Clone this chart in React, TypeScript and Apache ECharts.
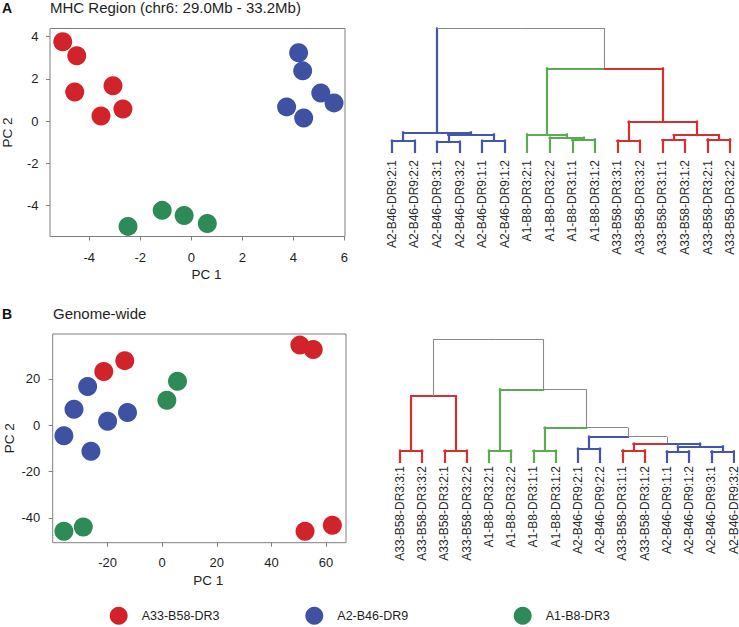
import React, { useEffect, useRef } from "react";
import * as echarts from "echarts";

// ---------- data ----------
const groupNames = ["A33-B58-DR3", "A2-B46-DR9", "A1-B8-DR3"];
const groupColors = ["#d2232a", "#3f51a3", "#2e8b57"];

// Panel A: PCA, MHC region
const mhcRed = [[-5.04, 3.76], [-4.49, 3.1], [-4.57, 1.38], [-3.07, 1.67], [-2.68, 0.57], [-3.54, 0.24]];
const mhcBlue = [[4.21, 3.24], [4.37, 2.38], [5.08, 1.33], [5.6, 0.86], [3.74, 0.67], [4.41, 0.14]];
const mhcGreen = [[-2.48, -5.0], [-1.14, -4.24], [-0.28, -4.48], [0.63, -4.86]];

// Panel B: PCA, genome-wide
const gwRed = [[-21.4, 23.2], [-13.7, 27.9], [50.4, 34.6], [55.3, 32.7], [52.3, -45.8], [62.3, -43.2]];
const gwBlue = [[-27.3, 16.7], [-32.3, 6.9], [-36, -4.5], [-26.1, -11.2], [-20, 1.7], [-12.7, 5.5]];
const gwGreen = [[5.6, 19], [1.7, 10.8], [-36, -45.8], [-28.9, -43.9]];

const mhcXTicks = [-4, -2, 0, 2, 4, 6];
const mhcYTicks = [-4, -2, 0, 2, 4];
const gwXTicks = [-20, 0, 20, 40, 60];
const gwYTicks = [-40, -20, 0, 20];

// Dendrogram leaves
const mhcLeaves = [
  "A2-B46-DR9:2:1", "A2-B46-DR9:2:2", "A2-B46-DR9:3:1", "A2-B46-DR9:3:2", "A2-B46-DR9:1:1", "A2-B46-DR9:1:2",
  "A1-B8-DR3:2:1", "A1-B8-DR3:2:2", "A1-B8-DR3:1:1", "A1-B8-DR3:1:2",
  "A33-B58-DR3:3:1", "A33-B58-DR3:3:2", "A33-B58-DR3:1:1", "A33-B58-DR3:1:2", "A33-B58-DR3:2:1", "A33-B58-DR3:2:2",
];
const gwLeaves = [
  "A33-B58-DR3:3:1", "A33-B58-DR3:3:2", "A33-B58-DR3:2:1", "A33-B58-DR3:2:2",
  "A1-B8-DR3:2:1", "A1-B8-DR3:2:2", "A1-B8-DR3:1:1", "A1-B8-DR3:1:2",
  "A2-B46-DR9:2:1", "A2-B46-DR9:2:2", "A33-B58-DR3:1:1", "A33-B58-DR3:1:2",
  "A2-B46-DR9:1:1", "A2-B46-DR9:1:2", "A2-B46-DR9:3:1", "A2-B46-DR9:3:2",
];

// merges: [left node, right node, height, left vertical, left bar, right vertical, right bar]
// leaves are nodes 0..15, merge k is node 16+k; colours: r, b, g, k (grey)
const mhcMerges: [number, number, number, string, string, string, string][] = [
  [0, 1, 1.13, "b", "b", "b", "b"],
  [2, 3, 1.03, "b", "b", "b", "b"],
  [4, 5, 1.13, "b", "b", "b", "b"],
  [17, 18, 1.77, "b", "b", "b", "b"],
  [16, 19, 1.97, "b", "b", "b", "b"],
  [8, 9, 1.27, "g", "g", "g", "g"],
  [7, 21, 1.43, "g", "g", "g", "g"],
  [6, 22, 1.77, "g", "g", "g", "g"],
  [10, 11, 1.13, "r", "r", "r", "r"],
  [12, 13, 1.2, "r", "r", "r", "r"],
  [14, 15, 1.27, "r", "r", "r", "r"],
  [25, 26, 1.7, "r", "r", "r", "r"],
  [24, 27, 3.03, "r", "r", "r", "r"],
  [23, 28, 8.37, "g", "g", "r", "r"],
  [20, 29, 12.37, "b", "k", "k", "k"],
];
const gwMerges: [number, number, number, string, string, string, string][] = [
  [0, 1, 1.13, "r", "r", "r", "r"],
  [2, 3, 1.13, "r", "r", "r", "r"],
  [16, 17, 6.6, "r", "r", "r", "r"],
  [4, 5, 1.13, "g", "g", "g", "g"],
  [6, 7, 1.13, "g", "g", "g", "g"],
  [8, 9, 1.35, "b", "b", "b", "b"],
  [10, 11, 1.17, "r", "r", "r", "r"],
  [12, 13, 1.07, "b", "b", "b", "b"],
  [14, 15, 1.07, "b", "b", "b", "b"],
  [23, 24, 1.57, "b", "b", "b", "b"],
  [22, 25, 1.85, "r", "r", "b", "b"],
  [21, 26, 2.53, "b", "b", "k", "k"],
  [20, 27, 3.43, "g", "g", "k", "k"],
  [19, 28, 7.27, "g", "g", "k", "k"],
  [18, 29, 12.27, "k", "k", "k", "k"],
];

const PAL: Record<string, string> = { r: "#d43030", b: "#4356ab", g: "#5aab52", k: "#8a8a8a" };

function dendroSegments(n: number, merges: [number, number, number, string, string, string, string][]) {
  const xs: number[] = [];
  const hs: number[] = [];
  for (let i = 0; i < n; i++) {
    xs.push(i);
    hs.push(0);
  }
  const segs: any[] = [];
  const push = (a: number[], b: number[], c: string) =>
    segs.push({
      coords: [a, b],
      lineStyle: { color: PAL[c], width: c === "k" ? 1.1 : 2.2, cap: c === "k" ? "butt" : "square", opacity: 1 },
    });
  merges.forEach(([l, r, h, lv, lh, rv, rh]) => {
    const x = (xs[l] + xs[r]) / 2;
    push([xs[l], hs[l]], [xs[l], h], lv);
    push([xs[l], h], [x, h], lh);
    push([xs[r], hs[r]], [xs[r], h], rv);
    push([xs[r], h], [x, h], rh);
    xs.push(x);
    hs.push(h);
  });
  return { segs, top: hs[hs.length - 1] };
}

const FONT = "'Liberation Sans', Arial, sans-serif";
const BOX = "#7f7f7f";
const TXT = "#1e1e1e";

function scatterAxis(min: number, max: number, ticks: number[], name: string, gridIndex: number, margin: number, isX: boolean) {
  return {
    type: "value",
    gridIndex,
    min,
    max,
    name,
    nameLocation: "middle",
    nameGap: isX ? 31 : 36,
    nameTextStyle: isX
      ? { fontSize: 13.5, color: TXT, padding: [0, 0, 0, 18] }
      : { fontSize: 13.5, color: TXT },
    splitLine: { show: false },
    axisLine: { show: false, onZero: false },
    axisTick: { show: true, length: 4, customValues: ticks, lineStyle: { color: BOX } },
    axisLabel: { customValues: ticks, fontSize: 13, color: TXT, margin },
  };
}

export default function App() {
  const ref = useRef<HTMLDivElement>(null);
  useEffect(() => {
    if (!ref.current) return;
    const chart = echarts.init(ref.current, undefined, { renderer: "svg" });
    const dA = dendroSegments(mhcLeaves.length, mhcMerges);
    const dB = dendroSegments(gwLeaves.length, gwMerges);

    const gridBase = { show: true, borderColor: BOX, borderWidth: 1, backgroundColor: "transparent", containLabel: false, outerBoundsMode: "none" };
    const dendroGrid = { show: false, containLabel: false, outerBoundsMode: "none" };

    const scatter = (name: string, color: string, data: number[][], idx: number) => ({
      type: "scatter",
      name,
      xAxisIndex: idx,
      yAxisIndex: idx,
      data,
      symbol: "circle",
      symbolSize: 19,
      itemStyle: { color, opacity: 1 },
      silent: true,
    });

    const catAxis = (labels: string[], gridIndex: number, margin: number) => ({
      type: "category",
      gridIndex,
      data: labels,
      boundaryGap: false,
      axisLine: { show: false, onZero: false },
      axisTick: { show: false },
      splitLine: { show: false },
      axisLabel: { rotate: 90, interval: 0, fontSize: 12, color: "#2a2a2a", margin, hideOverlap: false },
    });
    const hiddenVal = (gridIndex: number, min: number, max: number) => ({
      type: "value",
      gridIndex,
      min,
      max,
      show: false,
      splitLine: { show: false },
    });

    const legendAt = (i: number, left: number) => ({
      data: [groupNames[i]],
      left,
      top: 606.7,
      padding: 0,
      icon: "circle",
      itemWidth: 36,
      itemHeight: 18,
      selectedMode: false,
      textStyle: { fontSize: 12.5, color: TXT, fontFamily: FONT },
    });

    const linesSeries = (xi: number, yi: number, data: any[]) => ({
      type: "lines",
      coordinateSystem: "cartesian2d",
      xAxisIndex: xi,
      yAxisIndex: yi,
      polyline: false,
      silent: true,
      symbol: ["none", "none"],
      lineStyle: { width: 2.2, opacity: 1 },
      data,
    });

    const option: any = {
      animation: false,
      backgroundColor: "#ffffff",
      textStyle: { fontFamily: FONT },
      grid: [
        { ...gridBase, left: 50, top: 28.5, width: 295, height: 208 },
        { ...gridBase, left: 52.7, top: 334, width: 293.3, height: 208.7 },
        { ...dendroGrid, left: 391.9, top: 28.3, width: 338.2, height: 123.7 },
        { ...dendroGrid, left: 400, top: 339.3, width: 333.5, height: 122.7 },
      ],
      xAxis: [
        scatterAxis(-5.54, 6.03, mhcXTicks, "PC 1", 0, 14, true),
        scatterAxis(-40.1, 67.3, gwXTicks, "PC 1", 1, 13.5, true),
        catAxis(mhcLeaves, 2, 8),
        hiddenVal(2, 0, mhcLeaves.length - 1),
        catAxis(gwLeaves, 3, 4),
        hiddenVal(3, 0, gwLeaves.length - 1),
      ],
      yAxis: [
        scatterAxis(-5.48, 4.39, mhcYTicks, "PC 2", 0, 11.5, false),
        scatterAxis(-50.7, 39.4, gwYTicks, "PC 2", 1, 12.5, false),
        hiddenVal(2, 0, dA.top),
        hiddenVal(3, 0, dB.top),
      ],
      legend: [legendAt(0, 109.7), legendAt(1, 305.3), legendAt(2, 513.7)],
      series: [
        scatter(groupNames[0], groupColors[0], mhcRed, 0),
        scatter(groupNames[1], groupColors[1], mhcBlue, 0),
        scatter(groupNames[2], groupColors[2], mhcGreen, 0),
        scatter(groupNames[0], groupColors[0], gwRed, 1),
        scatter(groupNames[1], groupColors[1], gwBlue, 1),
        scatter(groupNames[2], groupColors[2], gwGreen, 1),
        linesSeries(3, 2, dA.segs),
        linesSeries(5, 3, dB.segs),
      ],
      graphic: [
        { type: "text", left: 2, top: 1, style: { text: "A", font: `bold 14px ${FONT}`, fill: "#111" } },
        { type: "text", left: 50, top: 0, style: { text: "MHC Region (chr6: 29.0Mb - 33.2Mb)", font: `15px ${FONT}`, fill: TXT } },
        { type: "text", left: 2, top: 307, style: { text: "B", font: `bold 14px ${FONT}`, fill: "#111" } },
        { type: "text", left: 53, top: 306, style: { text: "Genome-wide", font: `15px ${FONT}`, fill: TXT } },
      ],
    };
    chart.setOption(option);
    return () => chart.dispose();
  }, []);
  return (
    <div
      ref={ref}
      style={{ position: "fixed", left: 0, top: 0, width: 739, height: 627, background: "#fff" }}
    />
  );
}
